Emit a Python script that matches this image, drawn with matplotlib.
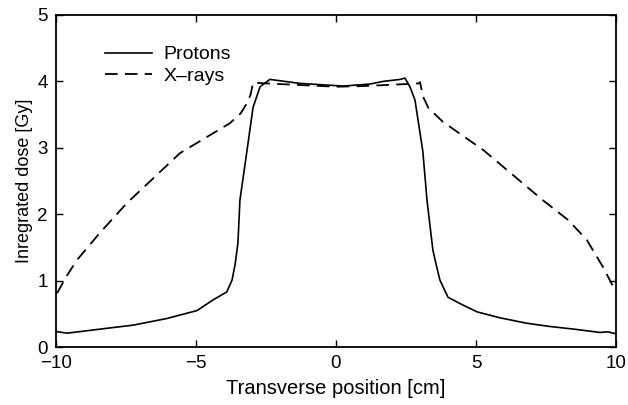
import numpy as np
import matplotlib
matplotlib.use("Agg")
import matplotlib.pyplot as plt

plt.rcParams['font.family'] = ['Liberation Sans', 'DejaVu Sans']

# values
proton_x = [-10.0, -9.93, -9.6, -9.0, -8.43, -7.25, -6.04, -4.96, -4.39, -3.9, -3.71, -3.6, -3.5, -3.43,
            -3.18, -2.96, -2.71, -2.36, -1.29, 0.25, 1.21, 1.68, 2.29, 2.46, 2.64, 2.82, 3.1,
            3.25, 3.46, 3.6, 3.71, 4.0, 4.5, 5.04, 5.86, 6.8, 7.64, 8.5, 9.43, 9.7, 9.9, 10.0]
proton_y = [0.24, 0.23, 0.21, 0.24, 0.27, 0.33, 0.43, 0.55, 0.71, 0.83, 1.01, 1.25, 1.57, 2.21,
            2.95, 3.61, 3.92, 4.03, 3.97, 3.93, 3.96, 4.0, 4.03, 4.05, 3.92, 3.72, 2.95,
            2.21, 1.46, 1.2, 1.01, 0.75, 0.64, 0.53, 0.44, 0.36, 0.31, 0.27, 0.22, 0.23, 0.21, 0.2]

xray_x = [-9.96, -9.6, -9.25, -8.43, -7.46, -5.57, -3.79, -3.4, -3.18, -3.05, -2.96, -2.0, -1.0,
          0.0, 1.0, 2.0, 2.96, 3.0, 3.11, 3.3, 3.82, 5.25, 7.39, 8.3, 8.96, 9.54, 9.96]
xray_y = [0.81, 1.08, 1.31, 1.72, 2.17, 2.92, 3.37, 3.52, 3.67, 3.8, 3.98, 3.96, 3.94,
          3.92, 3.93, 3.95, 3.97, 3.99, 3.77, 3.6, 3.39, 2.97, 2.21, 1.91, 1.61, 1.2, 0.86]

x_ticks = [-10, -5, 0, 5, 10]
y_ticks = [0, 1, 2, 3, 4, 5]

fig, ax = plt.subplots(figsize=(6.28, 4.05), dpi=100)
fig.subplots_adjust(left=0.089, right=0.981, top=0.963, bottom=0.143)

ax.plot(proton_x, proton_y, color='black', lw=1.2, label='Protons')
ax.plot(xray_x, xray_y, color='black', lw=1.3, dashes=(7, 4), label='X\u2013rays')

ax.set_xlim(-10, 10)
ax.set_ylim(0, 5)
ax.set_xticks(x_ticks)
ax.set_yticks(y_ticks)
ax.set_xticklabels(['\u221210', '\u22125', '0', '5', '10'])
ax.tick_params(direction='in', top=True, right=True, length=5, width=1,
               labelsize=13.5, pad=6)
for s in ax.spines.values():
    s.set_linewidth(1.3)

ax.set_xlabel('Transverse position [cm]', fontsize=14.5, labelpad=5)
ax.set_ylabel('Inregrated dose [Gy]', fontsize=13, labelpad=3)

ax.legend(loc='upper left', frameon=False, fontsize=14, handlelength=2.4,
          handletextpad=0.6, labelspacing=0.2, bbox_to_anchor=(0.057, 0.96))

fig.savefig('out.png', dpi=100)
